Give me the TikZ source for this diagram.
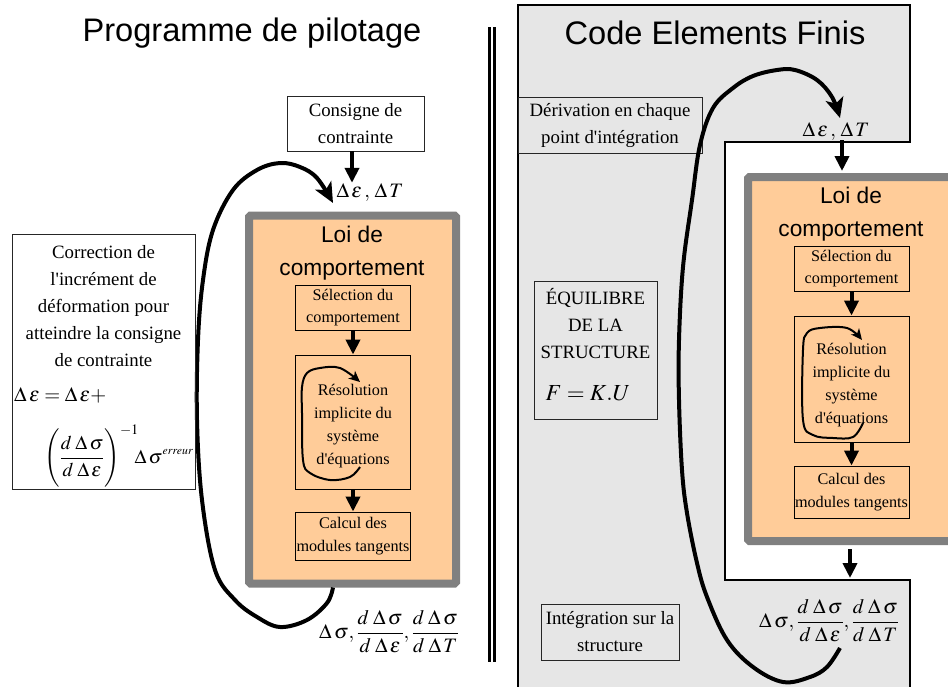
\documentclass[tikz,border=0pt]{standalone}
\usepackage{fix-cm}
\usepackage{mathptmx}
\usepackage[no-math]{fontspec}
\setmainfont{Liberation Serif}
\newfontfamily\hsans{Liberation Sans}
\usetikzlibrary{arrows.meta}
\definecolor{peach}{RGB}{255,204,153}
\definecolor{panel}{RGB}{230,230,230}
\definecolor{rim}{RGB}{128,128,128}
\newcommand{\sq}{\textquotesingle}
\newcommand{\dd}{\mathit{d}\;\Delta\,}
\begin{document}
\begin{tikzpicture}[x=1pt,y=-1pt,
  title/.style={inner sep=0pt, font=\hsans\fontsize{32.6}{38}\selectfont},
  loititle/.style={inner sep=0pt, align=center, font=\hsans\fontsize{22.7}{33}\selectfont},
  bigbox/.style={draw=black!85, line width=0.9pt, align=center, inner sep=0pt, font=\fontsize{18.8}{27}\selectfont},
  plaintext/.style={inner sep=0pt, align=center, font=\fontsize{18.8}{27}\selectfont},
  smallbox/.style={draw=black, line width=0.9pt, align=center, inner sep=0pt, minimum width=115pt, font=\fontsize{16.2}{22.8}\selectfont},
  loibox/.style={draw=rim, line width=8pt, fill=peach, rounded corners=1.5pt},
  lab/.style={inner sep=0pt, font=\fontsize{20.5}{24}\selectfont},
  flow/.style={line width=4pt, -{Triangle[length=15pt,width=14pt]}},
  bigloop/.style={line width=4pt, line join=round, -{Stealth[length=20pt,width=18pt,inset=5pt]}},
  smallloop/.style={line width=2pt, line join=round, -{Stealth[length=11pt,width=10pt,inset=3pt]}},
]
\useasboundingbox (0,0) rectangle (948,686);
\clip (0,0) rectangle (948,686);

% right panel (finite element code)
\filldraw[fill=panel, line width=2pt] (518,5) -- (910,5) -- (910,142) -- (725,142) -- (725,580) -- (910,580) -- (910,700) -- (518,700) -- cycle;

% separator
\draw[line width=2.7pt] (489.5,27) -- (489.5,662) (494.3,27) -- (494.3,662);

% titles
\node[title] (t1) at (252,33) {Programme de pilotage};
\node[title] (t2) at (715,33) {Code Elements Finis};

% ---------- left part ----------
\node[bigbox, minimum width=137pt, minimum height=55pt] (cons) at (355.5,123.5) {Consigne de\\contrainte};
\node[lab] (depsL) at (370,192) {$\Delta\,\varepsilon\,,\,\Delta\,T$};
\draw[flow] ([xshift=-3.5pt]cons.south) -- ([xshift=-3.5pt]cons.south |- depsL.north);

\node[loibox, minimum width=207pt, minimum height=368pt] (loiL) at (352.5,399.5) {};
\node[loititle] (loiLt) at (352,253) {Loi de\\comportement};
\node[smallbox, minimum height=45pt] (selL) at (353,307.5) {Sélection du\\comportement};
\node[smallbox, minimum height=134pt] (resL) at (353,422) {};
\node[plaintext, font=\fontsize{16.2}{22.8}\selectfont] (resLt) at (353,426) {Résolution\\implicite du\\système\\d\sq équations};
\node[smallbox, minimum height=48pt] (calL) at (353,536) {Calcul des\\modules tangents};
\draw[flow] (selL) -- (resL);
\draw[flow] (resL) -- (calL);

\coordinate (sLa) at (360,467);
\coordinate (sLb) at (360,382);
\draw[smallloop] plot[smooth, tension=0.6] coordinates {(sLa) (350,477) (330,480) (310,473) (303,460) (302,413) (302,387) (307,373) (320,368) (340,368) (sLb)};

\node[lab] (outL) at (389,632) {$\Delta\,\sigma,\displaystyle\frac{\dd\sigma}{\dd\varepsilon},\frac{\dd\sigma}{\dd T}$};

\coordinate (bLa) at ([xshift=-19.5pt]loiL.south);
\coordinate (bLb) at (333,203);
\draw[bigloop] plot[smooth, tension=0.6] coordinates {(bLa) (327,603) (307,620) (280,627) (257,617) (235,600) (215,570) (202,500) (197,420) (198,340) (203,280) (213,230) (233,190) (257,170) (280,163) (300,167) (317,178) (bLb)};

% correction box
\node[bigbox, minimum width=183pt, minimum height=255pt] (corr) at (103.5,361.5) {};
\node[plaintext] (corrt) at (103.5,306) {Correction de\\l\sq incrément de\\déformation pour\\atteindre la consigne\\de contrainte};
\node[lab, anchor=base west] (f1) at (14,401) {$\Delta\,\varepsilon=\Delta\,\varepsilon+$};
\node[lab, anchor=base west, font=\fontsize{19.5}{24}\selectfont] (f2) at (44,463) {$\displaystyle\left(\rule[-26pt]{0pt}{60pt}\frac{\dd\sigma}{\dd\varepsilon}\right)^{-1}\!\!\!\Delta\,\sigma^{\scriptscriptstyle erreur}$};

% ---------- right part ----------
\node[bigbox, fill=panel, minimum width=184pt, minimum height=56pt] (deriv) at (610,125) {Dérivation en chaque\\point d\sq intégration};
\node[bigbox, minimum width=123pt, minimum height=138pt] (equi) at (595.5,350) {};
\node[plaintext] (equit) at (595.5,324) {ÉQUILIBRE\\DE LA\\STRUCTURE};
\node[lab, font=\fontsize{23}{27}\selectfont] (fku) at (588,393) {$F=K.U$};
\node[bigbox, minimum width=138pt, minimum height=56pt] (integ) at (610,632) {Intégration sur la\\structure};

\node[lab] (depsR) at (836,131) {$\Delta\,\varepsilon\,,\,\Delta\,T$};
\node[loibox, minimum width=209pt, minimum height=364pt] (loiR) at (852.5,359) {};
\draw[flow] ([xshift=6pt]depsR.south) -- ([xshift=6pt,yshift=2pt]depsR.south |- loiR.north);
\node[loititle] (loiRt) at (851,214) {Loi de\\comportement};
\node[smallbox, minimum height=45pt] (selR) at (851.5,268.5) {Sélection du\\comportement};
\node[smallbox, minimum height=126pt] (resR) at (851.5,379) {};
\node[plaintext, font=\fontsize{16.2}{22.8}\selectfont] (resRt) at (851.5,385) {Résolution\\implicite du\\système\\d\sq équations};
\node[smallbox, minimum height=52pt] (calR) at (851.5,492) {Calcul des\\modules tangents};
\draw[flow] (selR) -- (resR);
\draw[flow] (resR) -- (calR);

\coordinate (sRa) at (863,423);
\coordinate (sRb) at (862,340);
\draw[smallloop] plot[smooth, tension=0.6] coordinates {(sRa) (853,437) (833,438) (813,435) (803,420) (803,350) (807,333) (820,328) (847,328) (sRb)};

\coordinate (notchB) at (850,578);
\draw[flow] ([yshift=-4pt]loiR.south -| notchB) -- (notchB);

\node[lab] (outR) at (829,621) {$\Delta\,\sigma,\displaystyle\frac{\dd\sigma}{\dd\varepsilon},\frac{\dd\sigma}{\dd T}$};

\coordinate (bRa) at (840,648);
\coordinate (bRb) at (840,118);
\draw[bigloop] plot[smooth, tension=0.6] coordinates {(bRa) (827,667) (810,677) (783,682) (753,667) (727,640) (707,597) (697,563) (687,513) (682,470) (679,400) (679,340) (683,267) (692,200) (700,145) (713,108) (733,88) (753,76) (777,70) (795,70) (817,80) (832,97) (bRb)};
\end{tikzpicture}
\end{document}
